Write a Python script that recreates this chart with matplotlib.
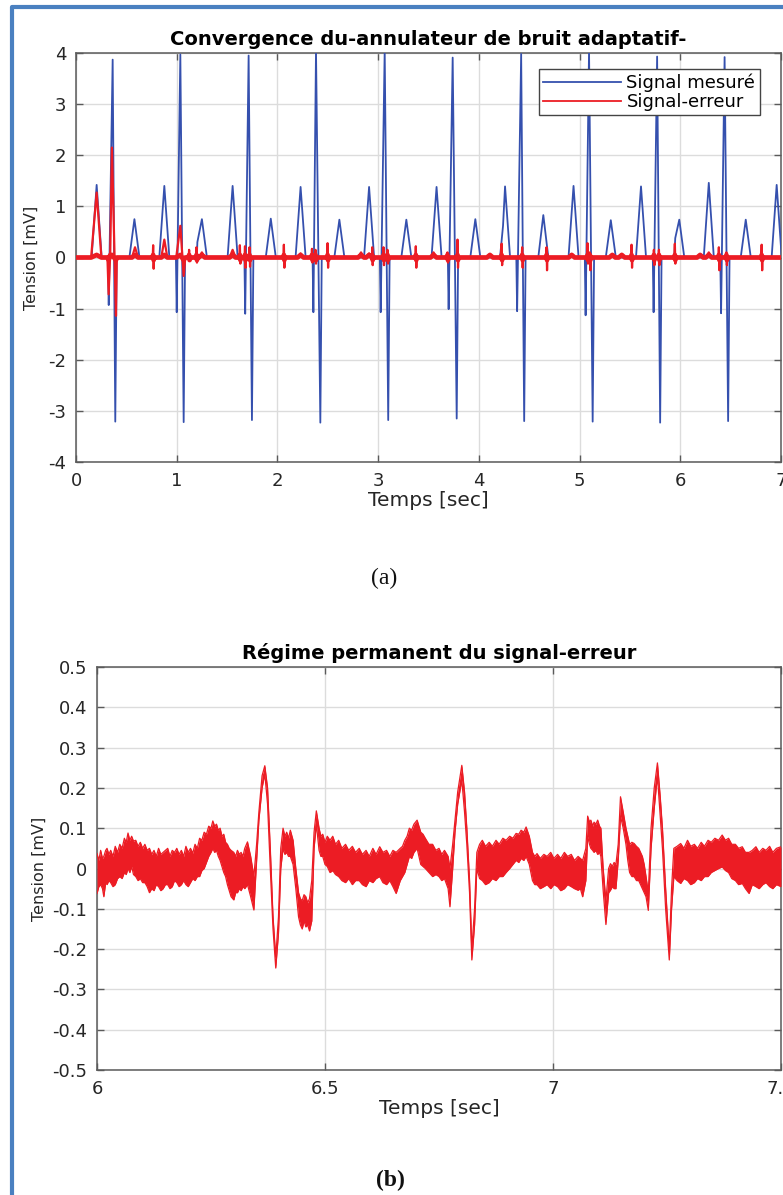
import matplotlib
matplotlib.use("Agg")
import numpy as np
import matplotlib.pyplot as plt
from matplotlib.patches import Rectangle
from matplotlib.lines import Line2D

# ---------------------------------------------------------------- data
# (a) measured ECG: one entry per heartbeat
onde_t_temps = [0.205, 0.877, 1.555, 2.230, 2.910, 3.580, 4.260, 4.940, 5.610, 6.283, 6.957]
onde_t_amp = [1.42, 1.40, 1.40, 1.38, 1.38, 1.38, 1.39, 1.40, 1.39, 1.46, 1.42]
q_temps = [0.325, 1.000, 1.680, 2.357, 3.025, 3.700, 4.380, 5.060, 5.735, 6.405]
q_amp = [-0.93, -1.07, -1.10, -1.07, -1.07, -1.01, -1.05, -1.13, -1.07, -1.09]
r_temps = [0.364, 1.036, 1.714, 2.383, 3.065, 3.740, 4.420, 5.094, 5.770, 6.440]
r_amp = [3.87, 3.97, 3.95, 4.05, 4.05, 3.91, 3.98, 4.05, 3.93, 3.92]
s_temps = [0.390, 1.069, 1.747, 2.426, 3.100, 3.780, 4.450, 5.130, 5.800, 6.475]
s_amp = [-3.21, -3.22, -3.18, -3.23, -3.18, -3.15, -3.20, -3.21, -3.23, -3.20]
onde_p_temps = [0.580, 1.250, 1.934, 2.615, 3.280, 3.965, 4.640, 5.310, 5.990, 6.650]
onde_p_amp = [0.75, 0.75, 0.76, 0.74, 0.74, 0.75, 0.83, 0.73, 0.74, 0.74]
# small notches on the slopes of some waves
encoche_temps = [1.205, 4.240, 5.950]
encoche_amp = [0.30, 0.62, 0.38]

# (a) error signal: start-up transient (first two beats)
transitoire_temps = [0.000, 0.150, 0.205, 0.252, 0.312, 0.324, 0.340, 0.357, 0.397, 0.405,
                     0.995, 1.036, 1.069, 1.085]
transitoire_val = [0.00, 0.00, 1.27, 0.00, 0.00, -0.72, 0.10, 2.15, -1.14, 0.00,
                   0.00, 0.62, -0.36, 0.00]
# residual bumps of the error signal
bosse_temps = [0.586, 0.877, 1.250, 1.555, 2.230, 2.830, 2.910, 3.550, 4.110, 4.922,
               5.325, 5.419, 6.197, 6.283]
bosse_amp = [0.20, 0.35, 0.10, 0.15, 0.08, 0.10, 0.08, 0.10, 0.05, 0.07,
             0.05, 0.07, 0.06, 0.10]
# residual spikes of the error signal: time, positive and negative excursion
pic_temps = [0.768, 1.125, 1.198, 1.629, 1.680, 1.725, 2.066, 2.345, 2.380, 2.500,
             2.943, 3.055, 3.095, 3.376, 3.690, 3.790, 4.228, 4.432, 4.674, 5.081,
             5.104, 5.518, 5.740, 5.790, 5.948, 6.385, 6.460, 6.810]
pic_haut = [0.24, 0.15, 0.20, 0.24, 0.22, 0.20, 0.25, 0.17, 0.15, 0.28,
            0.20, 0.20, 0.15, 0.22, 0.10, 0.35, 0.27, 0.20, 0.20, 0.28,
            0.10, 0.25, 0.15, 0.15, 0.27, 0.20, 0.10, 0.25]
pic_bas = [-0.22, -0.05, -0.10, -0.12, -0.20, -0.18, -0.20, -0.10, -0.12, -0.20,
           -0.15, -0.15, -0.12, -0.20, -0.10, -0.20, -0.15, -0.20, -0.25, -0.12,
           -0.25, -0.20, -0.15, -0.15, -0.12, -0.25, -0.15, -0.25]

# (b) steady-state error: time, upper and lower edge of the trace
regime_temps = [6.000, 6.004, 6.008, 6.012, 6.015, 6.019, 6.022, 6.026, 6.030, 6.035,
                6.040, 6.045, 6.050, 6.055, 6.060, 6.064, 6.068, 6.072, 6.076, 6.080,
                6.085, 6.090, 6.095, 6.100, 6.105, 6.110, 6.115, 6.120, 6.125, 6.130,
                6.135, 6.140, 6.145, 6.150, 6.155, 6.160, 6.165, 6.170, 6.175, 6.180,
                6.185, 6.190, 6.195, 6.200, 6.205, 6.210, 6.215, 6.220, 6.225, 6.230,
                6.235, 6.240, 6.245, 6.250, 6.254, 6.258, 6.262, 6.266, 6.270, 6.274,
                6.278, 6.282, 6.286, 6.290, 6.294, 6.300, 6.304, 6.308, 6.312, 6.316,
                6.320, 6.324, 6.330, 6.337, 6.344, 6.350, 6.355, 6.362, 6.368, 6.374,
                6.380, 6.386, 6.392, 6.398, 6.403, 6.408, 6.412, 6.416, 6.420, 6.424,
                6.430, 6.436, 6.442, 6.446, 6.450, 6.454, 6.458, 6.462, 6.466, 6.471,
                6.476, 6.481, 6.487, 6.491, 6.495, 6.500, 6.505, 6.511, 6.517, 6.523,
                6.530, 6.537, 6.545, 6.552, 6.560, 6.567, 6.575, 6.582, 6.590, 6.597,
                6.605, 6.612, 6.620, 6.627, 6.635, 6.642, 6.649, 6.656, 6.665, 6.670,
                6.675, 6.680, 6.685, 6.690, 6.695, 6.702, 6.710, 6.715, 6.720, 6.728,
                6.736, 6.743, 6.750, 6.756, 6.762, 6.770, 6.774, 6.780, 6.785, 6.791,
                6.800, 6.806, 6.811, 6.817, 6.822, 6.828, 6.833, 6.839, 6.845, 6.852,
                6.860, 6.867, 6.875, 6.882, 6.890, 6.897, 6.905, 6.912, 6.919, 6.925,
                6.930, 6.936, 6.941, 6.948, 6.955, 6.960, 6.965, 6.972, 6.980, 6.987,
                6.995, 7.002, 7.010, 7.017, 7.025, 7.032, 7.040, 7.047, 7.055, 7.060,
                7.065, 7.072, 7.076, 7.080, 7.083, 7.087, 7.090, 7.094, 7.098, 7.102,
                7.105, 7.110, 7.116, 7.122, 7.126, 7.130, 7.134, 7.138, 7.143, 7.148,
                7.154, 7.160, 7.164, 7.168, 7.173, 7.178, 7.183, 7.188, 7.192, 7.196,
                7.200, 7.204, 7.209, 7.215, 7.222, 7.229, 7.235, 7.240, 7.247, 7.255,
                7.260, 7.265, 7.272, 7.280, 7.287, 7.295, 7.302, 7.310, 7.317, 7.325,
                7.332, 7.340, 7.347, 7.355, 7.363, 7.371, 7.378, 7.385, 7.392, 7.400,
                7.407, 7.415, 7.422, 7.430, 7.437, 7.445, 7.452, 7.460, 7.467, 7.475,
                7.482, 7.490, 7.500]
regime_haut = [0.037, 0.020, 0.045, 0.025, 0.030, 0.045, 0.050, 0.035, 0.045, 0.030,
               0.055, 0.040, 0.060, 0.050, 0.075, 0.065, 0.088, 0.070, 0.080, 0.068,
               0.070, 0.055, 0.065, 0.050, 0.060, 0.045, 0.050, 0.035, 0.045, 0.030,
               0.050, 0.035, 0.040, 0.045, 0.050, 0.030, 0.045, 0.040, 0.050, 0.035,
               0.045, 0.030, 0.055, 0.040, 0.050, 0.038, 0.060, 0.050, 0.075, 0.070,
               0.090, 0.085, 0.105, 0.100, 0.118, 0.105, 0.110, 0.095, 0.100, 0.080,
               0.085, 0.065, 0.060, 0.050, 0.045, 0.040, 0.030, 0.045, 0.035, 0.040,
               0.030, 0.050, 0.066, 0.030, -0.020, 0.060, 0.140, 0.230, 0.255, 0.200,
               0.050, -0.120, -0.220, -0.120, 0.050, 0.100, 0.080, 0.090, 0.075, 0.095,
               0.070, 0.000, -0.060, -0.075, -0.080, -0.065, -0.070, -0.085, -0.075, -0.030,
               0.090, 0.143, 0.100, 0.080, 0.085, 0.065, 0.080, 0.070, 0.080, 0.060,
               0.070, 0.050, 0.060, 0.045, 0.055, 0.040, 0.050, 0.035, 0.045, 0.030,
               0.050, 0.035, 0.054, 0.040, 0.045, 0.030, 0.045, 0.040, 0.050, 0.055,
               0.070, 0.080, 0.100, 0.095, 0.110, 0.120, 0.090, 0.085, 0.075, 0.060,
               0.060, 0.045, 0.050, 0.035, 0.045, 0.030, 0.000, 0.060, 0.120, 0.190,
               0.256, 0.190, 0.100, -0.030, -0.200, -0.100, 0.040, 0.060, 0.070, 0.055,
               0.065, 0.055, 0.070, 0.060, 0.075, 0.070, 0.080, 0.075, 0.087, 0.085,
               0.095, 0.090, 0.103, 0.080, 0.040, 0.030, 0.037, 0.025, 0.035, 0.030,
               0.040, 0.025, 0.035, 0.025, 0.040, 0.030, 0.035, 0.020, 0.030, 0.025,
               0.020, 0.050, 0.130, 0.115, 0.120, 0.105, 0.115, 0.110, 0.120, 0.105,
               0.100, 0.000, -0.080, 0.000, 0.012, 0.005, 0.015, 0.010, 0.060, 0.178,
               0.140, 0.100, 0.080, 0.060, 0.065, 0.062, 0.055, 0.050, 0.040, 0.030,
               0.010, -0.020, -0.060, 0.100, 0.200, 0.262, 0.180, 0.100, -0.050, -0.200,
               -0.050, 0.050, 0.055, 0.062, 0.050, 0.070, 0.055, 0.060, 0.050, 0.065,
               0.055, 0.070, 0.065, 0.075, 0.070, 0.083, 0.070, 0.075, 0.060, 0.060,
               0.050, 0.054, 0.040, 0.040, 0.045, 0.054, 0.040, 0.050, 0.045, 0.055,
               0.040, 0.050, 0.054]
regime_bas = [-0.062, -0.045, -0.040, -0.050, -0.070, -0.035, -0.040, -0.030, -0.035, -0.045,
              -0.040, -0.025, -0.020, -0.025, -0.010, -0.015, 0.000, -0.010, 0.005, -0.015,
              -0.020, -0.030, -0.025, -0.035, -0.035, -0.045, -0.060, -0.050, -0.055, -0.040,
              -0.045, -0.055, -0.050, -0.040, -0.040, -0.050, -0.045, -0.030, -0.035, -0.045,
              -0.040, -0.030, -0.040, -0.045, -0.035, -0.025, -0.030, -0.020, -0.020, -0.005,
              0.000, 0.015, 0.030, 0.040, 0.050, 0.040, 0.045, 0.030, 0.020, 0.005,
              -0.010, -0.020, -0.040, -0.055, -0.070, -0.078, -0.060, -0.060, -0.050, -0.055,
              -0.045, -0.050, -0.040, -0.070, -0.103, 0.020, 0.120, 0.200, 0.235, 0.160,
              0.000, -0.150, -0.247, -0.160, 0.000, 0.050, 0.035, 0.040, 0.030, 0.030,
              0.010, -0.050, -0.120, -0.140, -0.150, -0.130, -0.145, -0.140, -0.155, -0.130,
              0.050, 0.110, 0.045, 0.030, 0.030, 0.010, 0.005, -0.010, -0.005, -0.015,
              -0.020, -0.030, -0.035, -0.025, -0.040, -0.030, -0.030, -0.040, -0.045, -0.030,
              -0.035, -0.025, -0.020, -0.035, -0.040, -0.030, -0.045, -0.062, -0.030, -0.020,
              -0.010, 0.010, 0.030, 0.025, 0.040, 0.050, 0.010, 0.005, 0.000, -0.010,
              -0.020, -0.015, -0.020, -0.030, -0.025, -0.050, -0.095, 0.000, 0.090, 0.160,
              0.220, 0.140, 0.060, -0.060, -0.227, -0.140, 0.000, -0.025, -0.030, -0.040,
              -0.035, -0.025, -0.030, -0.020, -0.020, -0.010, 0.000, 0.010, 0.020, 0.015,
              0.025, 0.020, 0.030, 0.010, -0.030, -0.040, -0.040, -0.050, -0.045, -0.040,
              -0.050, -0.040, -0.045, -0.055, -0.050, -0.040, -0.045, -0.050, -0.054, -0.050,
              -0.070, -0.030, 0.080, 0.060, 0.050, 0.045, 0.040, 0.045, 0.035, 0.040,
              0.030, -0.054, -0.139, -0.060, -0.054, -0.045, -0.050, -0.050, 0.020, 0.130,
              0.100, 0.060, 0.020, -0.010, -0.020, -0.020, -0.030, -0.030, -0.040, -0.050,
              -0.060, -0.070, -0.104, 0.050, 0.150, 0.230, 0.130, 0.050, -0.100, -0.227,
              -0.100, -0.020, -0.030, -0.037, -0.025, -0.030, -0.040, -0.035, -0.025, -0.030,
              -0.020, -0.020, -0.010, -0.005, 0.000, 0.004, -0.005, -0.010, -0.025, -0.030,
              -0.040, -0.037, -0.050, -0.062, -0.040, -0.045, -0.050, -0.040, -0.035, -0.045,
              -0.050, -0.040, -0.045]

titre_a = "Convergence du-annulateur de bruit adaptatif-"
titre_b = "Régime permanent du signal-erreur"
legende = ["Signal mesuré", "Signal-erreur"]
ticks_a_x = [0, 1, 2, 3, 4, 5, 6, 7]
ticks_a_y = [-4, -3, -2, -1, 0, 1, 2, 3, 4]
ticks_b_x = [6, 6.5, 7, 7.5]
ticks_b_y = [-0.5, -0.4, -0.3, -0.2, -0.1, 0, 0.1, 0.2, 0.3, 0.4, 0.5]

# ---------------------------------------------------------------- style
BLEU = "#3550ae"
ROUGE = "#ec1c24"
CADRE = "#4a80c0"
plt.rcParams["font.family"] = ["DejaVu Sans"]
plt.rcParams["axes.unicode_minus"] = False


def build_ecg():
    pts = [(0.0, 0.0)]
    half = 0.05
    for t, a in zip(onde_t_temps, onde_t_amp):
        pts += [(t - half, 0.0), (t, a), (t + half, 0.0)]
    for tq, aq, tr, ar, ts, as_ in zip(q_temps, q_amp, r_temps, r_amp, s_temps, s_amp):
        pts += [(tq - 0.008, 0.0), (tq, aq), (tr, ar), (ts, as_), (ts + 0.014, 0.0)]
    for t, a in zip(onde_p_temps, onde_p_amp):
        pts += [(t - half, 0.0), (t, a), (t + half, 0.0)]
    pts += list(zip(encoche_temps, encoche_amp))
    pts.sort()
    return [p[0] for p in pts], [p[1] for p in pts]


def build_erreur():
    pts = list(zip(transitoire_temps, transitoire_val))
    for t, a in zip(bosse_temps, bosse_amp):
        pts += [(t - 0.03, 0.0), (t, a), (t + 0.03, 0.0)]
    for t, hi, lo in zip(pic_temps, pic_haut, pic_bas):
        pts += [(t - 0.006, 0.0), (t - 0.002, hi), (t + 0.003, lo), (t + 0.007, 0.0)]
    pts.append((7.0, 0.0))
    pts.sort()
    return np.array([p[0] for p in pts]), np.array([p[1] for p in pts])


def style_axes(ax):
    ax.grid(True, color="#dcdcdc", lw=1.0)
    ax.set_axisbelow(True)
    for sp in ax.spines.values():
        sp.set_color("#5a5a5a")
        sp.set_linewidth(1.1)
    ax.tick_params(direction="in", length=5, width=1.0, color="#5a5a5a",
                   top=True, right=True, labelsize=13, labelcolor="#262626", pad=7)


fig = plt.figure(figsize=(7.83, 11.95), dpi=100)
W, H = 783.0, 1195.0

# ---------------------------------------------------------------- (a)
ax1 = fig.add_axes([76 / W, 1 - 462 / H, 705 / W, 409 / H])
tx, vx = build_ecg()
ax1.plot(tx, vx, color=BLEU, lw=1.3, zorder=3)
te, ve = build_erreur()
ax1.plot(te, ve, color=ROUGE, lw=1.6, zorder=4)
# the residual noise makes the baseline of the error trace look thick
ax1.plot(te, np.clip(ve, -0.05, 0.05), color=ROUGE, lw=3.4, zorder=4)
ax1.set_xlim(0, 7)
ax1.set_ylim(-4, 4)
ax1.set_xticks(ticks_a_x)
ax1.set_yticks(ticks_a_y)
style_axes(ax1)
ax1.set_title(titre_a, fontsize=14, fontweight="bold", pad=6)
ax1.set_xlabel("Temps [sec]", fontsize=14.5, color="#262626", labelpad=1)
ax1.set_ylabel("Tension [mV]", fontsize=11.5, color="#262626", labelpad=7)
handles = [Line2D([], [], color=BLEU, lw=1.3), Line2D([], [], color=ROUGE, lw=1.3)]
leg = ax1.legend(handles, legende, loc="upper right", bbox_to_anchor=(0.970, 0.961),
                 borderaxespad=0, fontsize=13, handlelength=4.3, handletextpad=0.3,
                 labelspacing=0.05, borderpad=0.25, fancybox=False, framealpha=1,
                 edgecolor="#444444")
leg.get_frame().set_linewidth(1.0)

# ---------------------------------------------------------------- (b)
ax2 = fig.add_axes([97 / W, 1 - 1070 / H, 684 / W, 403 / H])
ax2.fill_between(regime_temps, regime_bas, regime_haut, color=ROUGE, lw=0, zorder=3)
ax2.plot(regime_temps, regime_haut, color=ROUGE, lw=0.9, zorder=3)
ax2.plot(regime_temps, regime_bas, color=ROUGE, lw=0.9, zorder=3)
ax2.set_xlim(6, 7.5)
ax2.set_ylim(-0.5, 0.5)
ax2.set_xticks(ticks_b_x)
ax2.set_xticklabels(["6", "6.5", "7", "7.5"])
ax2.set_yticks(ticks_b_y)
ax2.set_yticklabels(["-0.5", "-0.4", "-0.3", "-0.2", "-0.1", "0",
                     "0.1", "0.2", "0.3", "0.4", "0.5"])
style_axes(ax2)
ax2.set_title(titre_b, fontsize=14, fontweight="bold", pad=6)
ax2.set_xlabel("Temps [sec]", fontsize=14.5, color="#262626", labelpad=1)
ax2.set_ylabel("Tension [mV]", fontsize=11.5, color="#262626", labelpad=4)

# ---------------------------------------------------------------- captions and frame
fig.text(384 / W, 1 - 578 / H, "(a)", ha="center", va="center", fontsize=17,
         family="Liberation Serif", color="#111111")
fig.text(390 / W, 1 - 1180 / H, "(b)", ha="center", va="center", fontsize=17,
         family="Liberation Serif", fontweight="bold", color="#111111")
fig.add_artist(Rectangle((12 / W, -0.05), 1.2, 1 - 7 / H + 0.05, transform=fig.transFigure,
                         fill=False, edgecolor=CADRE, lw=3.0, joinstyle="round"))

fig.savefig("out.png", dpi=100)
